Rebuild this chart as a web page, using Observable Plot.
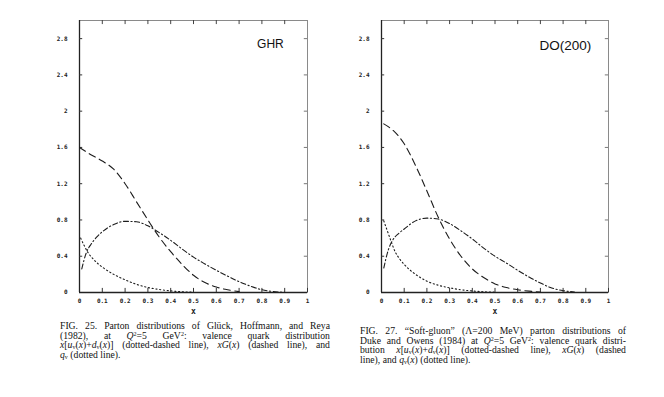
<!DOCTYPE html>
<html><head><meta charset="utf-8">
<script src="https://cdn.jsdelivr.net/npm/d3@7"></script>
<script src="https://cdn.jsdelivr.net/npm/@observablehq/plot@0.6"></script>
<style>
html,body{margin:0;padding:0;background:#fff;}
#page{position:relative;width:664px;height:397px;overflow:hidden;background:#fff;}
.panel{position:absolute;top:0;}
.cap{position:absolute;font-family:"Liberation Serif","DejaVu Serif",serif;font-size:9.7px;line-height:9.7px;color:#111;}
.ln{display:flex;justify-content:space-between;white-space:nowrap;height:9.7px;}
.ln.last{justify-content:flex-start;gap:2.5px;}
sub,sup{font-size:62%;line-height:0;position:relative;vertical-align:baseline;}
sup{top:-0.45em;} sub{top:0.1em;}
</style></head><body><div id="page">
<div id="p1" class="panel" style="left:29px"></div>
<div id="p2" class="panel" style="left:331px"></div>
<div id="c1" class="cap" style="left:60px;top:321px;width:270px"></div>
<div id="c2" class="cap" style="left:360px;top:326px;width:266px"></div>
</div>
<script>
// ---- axis ticks ----
const xTicks = [0, 0.1, 0.2, 0.3, 0.4, 0.5, 0.6, 0.7, 0.8, 0.9, 1];
const xTickLabels = ["0", "0.1", "0.2", "0.3", "0.4", "0.5", "0.6", "0.7", "0.8", "0.9", "1"];
const yTicks = [0, 0.4, 0.8, 1.2, 1.6, 2, 2.4, 2.8];
const yTickLabels = ["0", "0.4", "0.8", "1.2", "1.6", "2", "2.4", "2.8"];

// ---- GHR panel ----
const ghrTitle = "GHR";
const ghrGluonX = [0, 0.05, 0.1, 0.15, 0.2, 0.25, 0.3, 0.35, 0.4, 0.45, 0.5, 0.55, 0.6, 0.65, 0.7];
const ghrGluonY = [1.60, 1.52, 1.45, 1.36, 1.20, 1.00, 0.80, 0.61, 0.45, 0.31, 0.19, 0.11, 0.06, 0.03, 0.01];
const ghrValX = [0.01, 0.03, 0.05, 0.075, 0.1, 0.15, 0.2, 0.25, 0.3, 0.35, 0.4, 0.45, 0.5, 0.55, 0.6, 0.65, 0.7, 0.75, 0.8, 0.85, 0.9];
const ghrValY = [0.26, 0.44, 0.53, 0.61, 0.67, 0.75, 0.785, 0.78, 0.735, 0.66, 0.575, 0.48, 0.39, 0.315, 0.245, 0.18, 0.12, 0.07, 0.03, 0.01, 0.002];
const ghrSeaX = [0.005, 0.02, 0.04, 0.06, 0.08, 0.1, 0.15, 0.2, 0.25, 0.3, 0.35, 0.4, 0.45, 0.5];
const ghrSeaY = [0.60, 0.52, 0.43, 0.37, 0.32, 0.28, 0.20, 0.14, 0.09, 0.055, 0.033, 0.018, 0.008, 0.003];

// ---- DO(200) panel ----
const doTitle = "DO(200)";
const doGluonX = [0.01, 0.05, 0.1, 0.15, 0.2, 0.25, 0.3, 0.35, 0.4, 0.45, 0.5, 0.55, 0.6, 0.65, 0.7];
const doGluonY = [1.86, 1.79, 1.64, 1.40, 1.12, 0.83, 0.59, 0.40, 0.26, 0.165, 0.095, 0.055, 0.03, 0.015, 0.005];
const doValX = [0.01, 0.03, 0.05, 0.075, 0.1, 0.15, 0.2, 0.25, 0.3, 0.35, 0.4, 0.45, 0.5, 0.55, 0.6, 0.65, 0.7, 0.75, 0.8, 0.85];
const doValY = [0.27, 0.47, 0.58, 0.65, 0.70, 0.79, 0.82, 0.81, 0.76, 0.68, 0.59, 0.49, 0.40, 0.325, 0.245, 0.17, 0.105, 0.05, 0.02, 0.006];
const doSeaX = [0.01, 0.02, 0.04, 0.06, 0.08, 0.1, 0.15, 0.2, 0.25, 0.3, 0.35, 0.4, 0.45, 0.5];
const doSeaY = [0.79, 0.72, 0.58, 0.45, 0.37, 0.31, 0.20, 0.125, 0.08, 0.052, 0.03, 0.017, 0.008, 0.003];

// ---- captions (one entry per printed line) ----
const caption1 = [
  "FIG. 25. Parton distributions of Glück, Hoffmann, and Reya",
  "(1982), at <i>Q</i><sup>2</sup>=5 GeV<sup>2</sup>: valence quark distribution",
  "<i>x</i>[<i>u</i><sub>v</sub>(<i>x</i>)+<i>d</i><sub>v</sub>(<i>x</i>)] (dotted-dashed line), <i>xG</i>(<i>x</i>) (dashed line), and",
  "<i>q</i><sub>v</sub> (dotted line)."
];
const caption2 = [
  "FIG. 27. “Soft-gluon” (Λ=200 MeV) parton distributions of",
  "Duke and Owens (1984) at <i>Q</i><sup>2</sup>=5 GeV<sup>2</sup>: valence quark distri-",
  "bution <i>x</i>[<i>u</i><sub>v</sub>(<i>x</i>)+<i>d</i><sub>v</sub>(<i>x</i>)] (dotted-dashed line), <i>xG</i>(<i>x</i>) (dashed",
  "line), and <i>q</i><sub>v</sub>(<i>x</i>) (dotted line)."
];

function pts(xs, ys) { return xs.map((x, i) => ({x, y: ys[i]})); }

function makePanel({title, titleX, titleY, titleSize, gx, gy, vx, vy, sx, sy, marginRight}) {
  const ink = "#1c1c1c";
  return Plot.plot({
    width: 300, height: 320,
    marginLeft: 50, marginRight, marginTop: 20, marginBottom: 28,
    x: {domain: [0, 1]},
    y: {domain: [0, 3]},
    style: {fontFamily: "DejaVu Sans Mono", fontSize: "6px", fontWeight: "bold", color: "#222", background: "white", overflow: "visible"},
    marks: [
      Plot.frame({stroke: "#8a8a8a"}),
      Plot.ruleX([0], {stroke: "#222", strokeWidth: 1.3}),
      Plot.ruleY([0], {stroke: "#222", strokeWidth: 1.3}),
      Plot.ruleY(yTicks.filter(d => d > 0), {y: d => d, x1: 0, x2: 0.014, stroke: "#333"}),
      Plot.ruleY(yTicks.filter(d => d > 0), {y: d => d, x1: 0.986, x2: 1, stroke: "#777"}),
      Plot.ruleX(xTicks.filter(d => d > 0), {x: d => d, y1: 0, y2: 0.045, stroke: "#333"}),
      Plot.ruleX(xTicks.filter(d => d > 0 && d < 1), {x: d => d, y1: 2.955, y2: 3, stroke: "#444"}),
      Plot.axisX({ticks: xTicks, tickSize: 0, tickPadding: 6, tickFormat: d => xTickLabels[xTicks.indexOf(d)], label: null}),
      Plot.axisY({ticks: yTicks, tickSize: 0, tickPadding: 12, tickFormat: d => yTickLabels[yTicks.indexOf(d)], label: null}),
      Plot.text(["x"], {frameAnchor: "bottom", dy: 21, fontSize: 8, fontWeight: "bold"}),
      Plot.text([title], {x: titleX, y: titleY, text: d => d, textAnchor: "end", fontFamily: "Liberation Sans", fontSize: titleSize, fontWeight: "normal", fill: "#111"}),
      Plot.line(pts(gx, gy), {x: "x", y: "y", curve: "monotone-x", stroke: ink, strokeWidth: 1.1, strokeDasharray: "7,4.5"}),
      Plot.line(pts(vx, vy), {x: "x", y: "y", curve: "monotone-x", stroke: ink, strokeWidth: 1.1, strokeDasharray: "5,2.5,1.2,2.5"}),
      Plot.line(pts(sx, sy), {x: "x", y: "y", curve: "monotone-x", stroke: ink, strokeWidth: 1.1, strokeDasharray: "1.2,2.6"})
    ]
  });
}

document.getElementById("p1").append(makePanel({
  title: ghrTitle, titleX: 0.896, titleY: 2.735, titleSize: 12,
  gx: ghrGluonX, gy: ghrGluonY, vx: ghrValX, vy: ghrValY, sx: ghrSeaX, sy: ghrSeaY, marginRight: 22
}));
document.getElementById("p2").append(makePanel({
  title: doTitle, titleX: 0.924, titleY: 2.72, titleSize: 13.5,
  gx: doGluonX, gy: doGluonY, vx: doValX, vy: doValY, sx: doSeaX, sy: doSeaY, marginRight: 23
}));

function fillCaption(el, lines) {
  lines.forEach((line, i) => {
    const div = document.createElement("div");
    div.className = "ln" + (i === lines.length - 1 ? " last" : "");
    line.split(" ").forEach(w => {
      const s = document.createElement("span");
      s.innerHTML = w;
      div.append(s);
    });
    el.append(div);
  });
}
fillCaption(document.getElementById("c1"), caption1);
fillCaption(document.getElementById("c2"), caption2);
</script>
</body></html>
